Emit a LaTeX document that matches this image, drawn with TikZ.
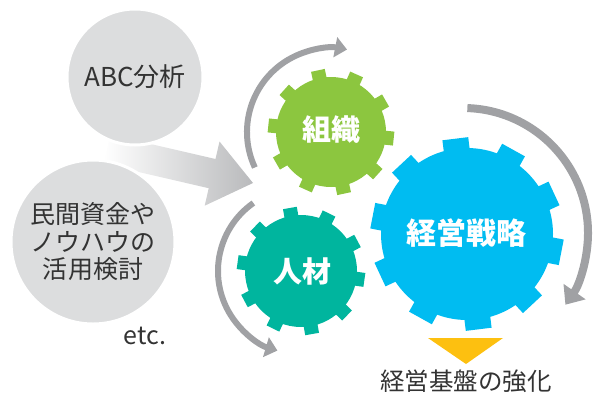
\documentclass[tikz,border=0pt]{standalone}
\usepackage{fontspec}
\setmainfont{Noto Sans CJK JP}
\usetikzlibrary{arrows.meta}

\newlength{\du}
\setlength{\du}{1pt}

\definecolor{bubblegray}{rgb}{0.862745, 0.866667, 0.870588}
\definecolor{turngray}{rgb}{0.627451, 0.631373, 0.643137}
\definecolor{arrowgray}{rgb}{0.725490, 0.729412, 0.737255}
\definecolor{textgray}{rgb}{0.200000, 0.200000, 0.200000}
\definecolor{soshikigreen}{rgb}{0.549020, 0.776471, 0.247059}
\definecolor{jinzaiteal}{rgb}{0.000000, 0.709804, 0.619608}
\definecolor{senryakublue}{rgb}{0.000000, 0.737255, 0.945098}
\definecolor{kibanyellow}{rgb}{0.992157, 0.752941, 0.062745}

\tikzset{
  bubble/.style={circle, fill=bubblegray, draw=white, line width=3\du,
    inner sep=0pt, text=textgray, align=center},
  turn/.style={draw=turngray, line width=6\du,
    -{Triangle[length=12pt,width=20pt]}},
  gearlabel/.style={text=white, font=\fontsize{29}{29}\selectfont\bfseries},
}

% x, y, colour, inner radius, outer radius, tooth width, first tooth angle
\newcommand{\drawgear}[7]{%
\begin{scope}[shift={(#1\du,#2\du)}]
\fill[#3] (0,0) circle (#4\du);
\foreach \k in {0,...,9}
  \fill[#3, rotate=#7+36*\k] (#4\du-3\du,-#6\du/2) rectangle (#5\du,#6\du/2);
\end{scope}}

\begin{document}
\begin{tikzpicture}
\pgftransformxscale{1.000000}
\pgftransformyscale{-1.000000}
\useasboundingbox (0\du,0\du) rectangle (593.000000\du,394.000000\du);
% faded arrow into the gears
\shade[left color=white, right color=arrowgray]
  (110.300000\du,134.700000\du)--(215.500000\du,159.000000\du)--(219.500000\du,141.500000\du)
  --(253.000000\du,183.000000\du)--(204.700000\du,205.700000\du)--(208.700000\du,188.200000\du)
  --(103.500000\du,163.900000\du)--cycle;
\node[bubble, minimum size=136\du, font=\fontsize{26}{26}\selectfont] (abc) at (135.000000\du,77.000000\du) {ABC分析};
\node[bubble, minimum size=164\du, font=\fontsize{25}{27.5}\selectfont] (minkan) at (93.000000\du,242.000000\du) {民間資金や\\ノウハウの\\活用検討};
\node[text=textgray, font=\fontsize{25}{25}\selectfont] (etc) at (145.000000\du,336.000000\du) {etc.};
% gears
\drawgear{331}{132}{soshikigreen}{55}{63}{14}{-102}
\drawgear{301}{271}{jinzaiteal}{56}{64}{14}{-100}
\drawgear{467}{234}{senryakublue}{86}{96}{26}{-97}
\node[gearlabel] (soshiki) at (331.000000\du,130.000000\du) {組織};
\node[gearlabel] (jinzai) at (302.000000\du,271.000000\du) {人材};
\node[gearlabel, font=\fontsize{30}{30}\selectfont\bfseries] (senryaku) at (466.000000\du,233.000000\du) {経営戦略};
% turning arrows
\coordinate (soshikiturn) at (331.000000\du,132.000000\du);
\coordinate (jinzaiturn) at (301.000000\du,271.000000\du);
\coordinate (senryakuturn) at (463.000000\du,233.000000\du);
\draw[turn] (soshikiturn) ++(155:84pt) arc[start angle=155, end angle=281, radius=84pt];
\draw[turn] (jinzaiturn) ++(235:83pt) arc[start angle=235, end angle=106.5, radius=83pt];
\draw[turn, line width=8\du, -{Triangle[length=16pt,width=26pt]}] (senryakuturn) ++(-88:125pt) arc[start angle=-88, end angle=35, radius=125pt];
% result
\fill[kibanyellow] (428.000000\du,338.000000\du)--(503.000000\du,338.000000\du)--(466.000000\du,364.000000\du)--cycle;
\node[text=textgray, font=\fontsize{24.5}{24.5}\selectfont] (kiban) at (466.000000\du,381.000000\du) {経営基盤の強化};
\end{tikzpicture}
\end{document}
